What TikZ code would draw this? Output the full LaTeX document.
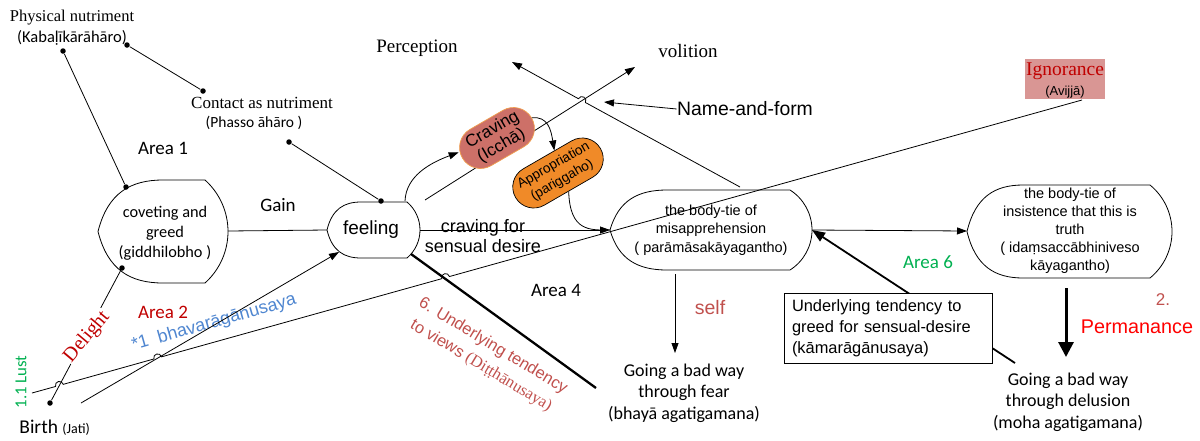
\documentclass[tikz,border=0pt]{standalone}
\usepackage{fontspec}
\setmainfont{Liberation Sans}
\newfontfamily\tms{Liberation Serif}
\newfontfamily\calib{Carlito}
\usetikzlibrary{arrows.meta,calc}
\definecolor{dred}{HTML}{C00000}
\definecolor{bred}{HTML}{C0504D}
\definecolor{lblue}{HTML}{4F86D0}
\definecolor{grn}{HTML}{00B050}
\definecolor{igfill}{HTML}{D99694}
\definecolor{crfill}{HTML}{CD7068}
\definecolor{crline}{HTML}{F0A050}
\definecolor{apfill}{HTML}{F08A28}
\definecolor{pred}{HTML}{FF0000}
\newcommand\fsz[2]{\fontsize{#1}{#2}\selectfont}
\newcommand\dispshape[6]{%
  \pgfmathsetmacro\dsYm{(#5+#6)/2}%
  \pgfmathsetmacro\dsHc{(#6-#5)/2}%
  \pgfmathsetmacro\dsSg{#4-#3}%
  \pgfmathsetmacro\dsR{(\dsHc*\dsHc+\dsSg*\dsSg)/(2*\dsSg)}%
  \pgfmathsetmacro\dsPh{asin(\dsHc/\dsR)}%
  \pgfmathsetmacro\dsK{4/3*tan(\dsPh/4)*\dsR}%
  \pgfmathsetmacro\dsAx{#3+\dsK*sin(\dsPh)}%
  \pgfmathsetmacro\dsAt{#5+\dsK*cos(\dsPh)}%
  \pgfmathsetmacro\dsAb{#6-\dsK*cos(\dsPh)}%
  \pgfmathsetmacro\dsW{#2-#1}%
  \draw (#1,\dsYm) .. controls ({#1+0.15*\dsW},{\dsYm-0.75*\dsHc}) and ({#1+0.5*\dsW},#5) .. (#2,#5) -- (#3,#5)
    .. controls (\dsAx,\dsAt) and (#4,{\dsYm-\dsK}) .. (#4,\dsYm)
    .. controls (#4,{\dsYm+\dsK}) and (\dsAx,\dsAb) .. (#3,#6) -- (#2,#6)
    .. controls ({#1+0.5*\dsW},#6) and ({#1+0.15*\dsW},{\dsYm+0.75*\dsHc}) .. cycle;}
\begin{document}
\begin{tikzpicture}[x=1pt,y=-1pt,line width=0.8pt,
  tri/.style={-{Triangle[length=10pt,width=7pt]}},
  bullet/.style={circle,fill,inner sep=0pt,minimum size=5.5pt},
  txt/.style={inner sep=0pt,align=center}]
\useasboundingbox (0,0) rectangle (1200,440);

% ---------- top-left texts and dots
\node[txt,font=\tms\fsz{16.5}{18}] (phys) at (72,18) {Physical nutriment};
\node[txt,font=\calib\fsz{16.5}{18}] (kaba) at (72,38) {(Kabaḷīkārāhāro)};
\node[bullet] (d1) at (63,51) {};
\node[bullet] (d2) at (127,45) {};
\node[txt,font=\tms\fsz{17}{18}] (cont) at (262,103) {Contact as nutriment};
\node[txt,font=\calib\fsz{15.5}{18}] (phas) at (254,123) {(Phasso āhāro )};
\node[bullet] (d3) at (203,91) {};
\node[bullet] (d4) at (289,142) {};
\node[bullet] (d5) at (381,201) {};
\node[bullet] (d6) at (126,187) {};
\node[bullet] (d7) at (122,268) {};
\node[bullet] (d8) at (50,403) {};

% ---------- display shapes
\dispshape{98}{163}{205}{228}{180}{283}
\node[txt,font=\calib\fsz{16.3}{20}] (cov) at (165,233) {coveting and\\greed\\(giddhilobho )};
\dispshape{327}{361}{407}{420}{202}{258}
\node[txt,font=\fsz{19}{20}] (fe) at (371,230) {feeling};
\dispshape{610}{667}{790}{812}{190}{270}
\node[txt,font=\fsz{14.5}{18.5}] (mis) at (711,230) {the body-tie of\\misapprehension\\( parāmāsakāyagantho)};
\dispshape{967}{1023}{1150}{1172}{185}{278}
\node[txt,font=\fsz{14.5}{18}] (ins) at (1070,231) {the body-tie of\\insistence that this is\\truth\\( idaṃsaccābhiniveso\\kāyagantho)};

\coordinate (cov-e) at (228,231);
\coordinate (fe-w) at (327,230);
\coordinate (fe-e) at (420,230);
\coordinate (fe-sw) at (339,252);
\coordinate (fe-se) at (411,254);
\coordinate (fe-ne) at (405,201);
\coordinate (mis-w) at (610,230);
\coordinate (mis-e) at (812,230);
\coordinate (mis-s) at (675,274);
\coordinate (mis-n) at (740,187);
\coordinate (ins-w) at (967,231);
\coordinate (ins-s) at (1066,288);

% ---------- other texts
\node[txt,font=\calib\fsz{19}{20}] (a1) at (163,148) {Area 1};
\node[txt,font=\calib\fsz{19}{20}] (gain) at (278,205) {Gain};
\node[txt,font=\calib\fsz{19}{20},text=dred] (a2) at (163,312) {Area 2};
\node[txt,font=\calib\fsz{19}{20}] (a4) at (556,290) {Area 4};
\node[txt,font=\calib\fsz{19}{20},text=grn] (a6) at (928,262) {Area 6};
\node[txt,font=\fsz{18}{20.5}] (csd) at (483,236) {craving for\\sensual desire};
\node[txt,font=\tms\fsz{19}{20}] (perc) at (417,48) {Perception};
\node[txt,font=\tms\fsz{19}{20}] (voli) at (688,51) {volition};
\node[txt,font=\fsz{19.4}{20}] (nf) at (745,109) {Name-and-form};
\node[txt,font=\fsz{19.5}{20},text=bred] (self) at (710,308) {self};
\node[txt,font=\calib\fsz{18}{21.5}] (fear) at (684,393) {Going a bad way\\through fear\\(bhayā agatigamana)};
\node[txt,font=\calib\fsz{18}{21.5}] (delu) at (1068,402) {Going a bad way\\through delusion\\(moha agatigamana)};
\node[txt,font=\fsz{17}{20},text=bred] (two) at (1163,300) {2.};
\node[txt,font=\fsz{19.8}{20},text=pred] (perm) at (1137,327) {Permanance};
\node[anchor=west,inner sep=0pt,font=\calib\fsz{19.5}{20}] (birth) at (19,428) {Birth {\fsz{14}{16}(Jati)}};
\node[txt,rotate=90,font=\calib\fsz{16.8}{18},text=grn] (lust) at (21,382) {1.1 Lust};
\node[txt,rotate=16,font=\fsz{18}{20},text=lblue] (bhava) at (214,323) {*1\ \ bhavarāgānusaya};
\node[txt,rotate=-31,font=\fsz{16.5}{23},text=bred] (ditt) at (487,356) {6. Underlying tendency\\to views {\tms(Diṭṭhānusaya)}};

% ---------- Ignorance
\node[fill=igfill,minimum width=80,minimum height=40,inner sep=0pt] (ig) at (1065,79) {};
\node[txt,font=\tms\fsz{19.5}{20},text=dred] (igt) at (1065,71) {Ignorance};
\node[txt,font=\fsz{13}{14}] (iga) at (1065,92) {(Avijjā)};
\coordinate (ig-b) at (1082,100);
\coordinate (lust-end) at (32,393);

% ---------- simple connectors
\draw (d1) -- (d6);
\draw (d2) -- (d3);
\draw (d4) -- (d5);
\draw (cov-e) -- (fe-w);
\coordinate (bh-start) at (81,403);
\draw[tri] (bh-start) -- (fe-sw);
\draw[tri] (fe-e) -- (mis-w);
\draw[line width=2.3pt] (fe-se) -- (596,388);
\coordinate (fear-t) at (675,353);
\draw[tri] (mis-s) -- (fear-t);
\draw[tri] (mis-e) -- (ins-w);
\coordinate (delu-t) at (1066,357);
\draw[line width=3pt,-{Triangle[length=15pt,width=15pt]}] (ins-s) -- (delu-t);
\coordinate (delu-c) at (1015,363);
\draw[line width=1.8pt,-{Triangle[length=13pt,width=10pt]}] (delu-c) -- (mis-e);
\node[draw,fill=white,line width=0.9pt,align=left,inner xsep=8pt,text width=192pt,minimum height=70,font=\fsz{16.4}{21}] (box) at (888,328) {Underlying tendency to\\greed for sensual-desire\\(kāmarāgānusaya)};
\coordinate (nf-t) at (604,102);
\draw[tri] (nf.west) -- (nf-t);

% Delight line with label
\draw (d7) -- (d8);
\node[txt,rotate=50,font=\tms\fsz{20}{20},text=dred,fill=white,inner sep=1pt] (del) at (87,337) {Delight};

% long line Ignorance -> lust end with line hops
\draw (ig-b) -- (449.45,276.53) .. controls (448.02,271.39) and (440.32,273.54) .. (441.75,278.68)
  -- (161.55,356.83) .. controls (160.12,351.69) and (152.42,353.84) .. (153.85,358.98)
  -- (63.25,384.33) .. controls (61.82,379.19) and (54.12,381.35) .. (55.55,386.48)
  -- (lust-end);

% volition line
\coordinate (vol-s) at (425,200);
\coordinate (vol-t) at (635,67);
\draw[tri] (vol-s) -- (vol-t);
% perception line with hop
\coordinate (perc-t) at (512,62);
\draw[tri] (mis-n) -- (585.4,102.5) .. controls (587.98,97.87) and (580.98,94.0) .. (578.4,98.7) -- (perc-t);

% ---------- pills
\node[draw=crline,fill=crfill,line width=0.7pt,rounded corners=21pt,minimum width=80,minimum height=42,rotate=30,inner sep=0pt,align=center,font=\fsz{17}{18}] (cr) at (497,138) {Craving\\(Icchā)};
\node[draw,fill=apfill,line width=0.7pt,rounded corners=21pt,minimum width=98,minimum height=42,rotate=30,inner sep=0pt,align=center,font=\fsz{13.6}{17}] (ap) at (558,173) {Appropriation\\(pariggaho)};

\draw[tri] (fe-ne) .. controls (406,176) and (430,163) .. (cr);
\draw[tri] (cr.east) .. controls (548,116) and (551,130) .. (ap);
\draw (ap.south) .. controls (570,232) and (590,230) .. (mis-w);
\end{tikzpicture}
\end{document}
